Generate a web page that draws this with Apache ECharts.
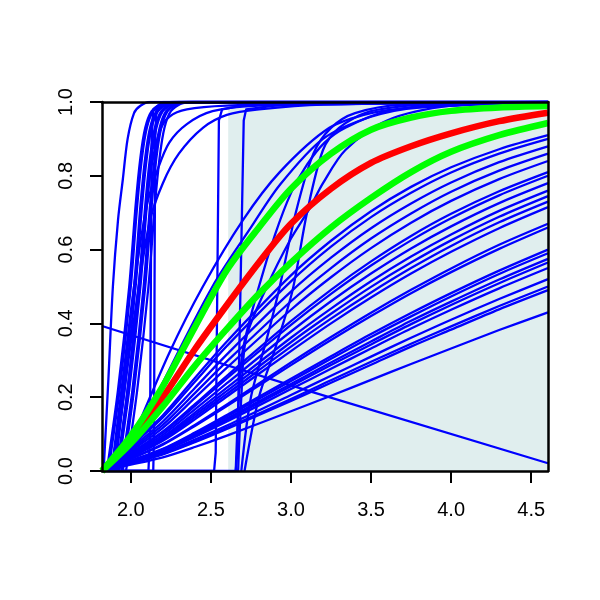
<!DOCTYPE html>
<html><head><meta charset="utf-8">
<script src="https://cdn.jsdelivr.net/npm/echarts@6/dist/echarts.min.js"></script>
<style>html,body{margin:0;padding:0;background:#fff}#c{width:600px;height:600px}</style>
</head><body><div id="c"></div>
<script>
// ---- axis ranges / ticks ----
const xMin = 1.82, xMax = 4.605;
const shadeStart = 2.608;
const xTicks = [2.0, 2.5, 3.0, 3.5, 4.0, 4.5];
const yTicks = [0, 0.2, 0.4, 0.6, 0.8, 1.0];

// ---- thick reference curves ----
const refX = [1.82, 2.0, 2.2, 2.4, 2.6, 2.8, 3.0, 3.25, 3.5, 3.75, 4.0, 4.3, 4.605];
const redY = [0, 0.085, 0.2, 0.33, 0.45, 0.565, 0.67, 0.765, 0.835, 0.88, 0.915, 0.948, 0.971];
const greenUpperY = [0, 0.095, 0.23, 0.39, 0.545, 0.66, 0.765, 0.86, 0.925, 0.958, 0.976, 0.985, 0.989];
const greenLowerY = [0, 0.075, 0.175, 0.285, 0.385, 0.48, 0.565, 0.66, 0.74, 0.81, 0.865, 0.91, 0.943];

// ---- fan of blue curves from the lower-left corner ----
const fanX = [1.82, 2.0, 2.2, 2.4, 2.6, 3.0, 3.25, 3.5, 3.75, 4.0, 4.3, 4.605];
const fanY = [
  [0, 0.069, 0.151, 0.252, 0.351, 0.530, 0.624, 0.704, 0.770, 0.823, 0.872, 0.91],
  [0, 0.067, 0.145, 0.242, 0.339, 0.514, 0.608, 0.688, 0.754, 0.809, 0.860, 0.90],
  [0, 0.062, 0.134, 0.225, 0.316, 0.486, 0.578, 0.658, 0.725, 0.782, 0.837, 0.88],
  [0, 0.058, 0.125, 0.211, 0.297, 0.460, 0.550, 0.630, 0.698, 0.757, 0.814, 0.86],
  [0, 0.054, 0.117, 0.198, 0.280, 0.437, 0.525, 0.604, 0.673, 0.732, 0.791, 0.84],
  [0, 0.049, 0.107, 0.181, 0.258, 0.406, 0.491, 0.568, 0.637, 0.697, 0.758, 0.81],
  [0, 0.048, 0.104, 0.176, 0.251, 0.396, 0.480, 0.557, 0.625, 0.685, 0.747, 0.80],
  [0, 0.045, 0.098, 0.167, 0.238, 0.378, 0.460, 0.535, 0.603, 0.663, 0.726, 0.78],
  [0, 0.042, 0.092, 0.158, 0.226, 0.361, 0.440, 0.514, 0.581, 0.641, 0.705, 0.76],
  [0, 0.041, 0.089, 0.152, 0.217, 0.349, 0.426, 0.499, 0.565, 0.625, 0.689, 0.745],
  [0, 0.039, 0.085, 0.146, 0.209, 0.337, 0.413, 0.484, 0.550, 0.610, 0.674, 0.73],
  [0, 0.038, 0.082, 0.140, 0.202, 0.325, 0.400, 0.470, 0.535, 0.594, 0.658, 0.715],
  [0, 0.034, 0.073, 0.125, 0.180, 0.294, 0.363, 0.429, 0.491, 0.549, 0.613, 0.67],
  [0, 0.033, 0.071, 0.122, 0.176, 0.287, 0.355, 0.420, 0.482, 0.539, 0.602, 0.66],
  [0, 0.028, 0.060, 0.104, 0.152, 0.250, 0.311, 0.371, 0.428, 0.482, 0.543, 0.60],
  [0, 0.027, 0.059, 0.102, 0.148, 0.244, 0.304, 0.363, 0.419, 0.473, 0.534, 0.59],
  [0, 0.026, 0.056, 0.098, 0.142, 0.236, 0.294, 0.351, 0.407, 0.459, 0.519, 0.575],
  [0, 0.025, 0.055, 0.095, 0.139, 0.230, 0.287, 0.343, 0.398, 0.450, 0.509, 0.565],
  [0, 0.024, 0.053, 0.092, 0.134, 0.222, 0.277, 0.332, 0.386, 0.437, 0.495, 0.55],
  [0, 0.023, 0.049, 0.085, 0.123, 0.206, 0.258, 0.310, 0.361, 0.410, 0.466, 0.52],
  [0, 0.021, 0.046, 0.080, 0.117, 0.195, 0.246, 0.296, 0.345, 0.392, 0.447, 0.50],
  [0, 0.021, 0.045, 0.078, 0.114, 0.190, 0.239, 0.288, 0.337, 0.383, 0.438, 0.49],
  [0, 0.017, 0.037, 0.065, 0.096, 0.162, 0.204, 0.247, 0.290, 0.332, 0.382, 0.43]
];

// ---- steep curves near the left (each: x list, shared y list) ----
const steepY = [0, 0.22, 0.5, 0.72, 0.85, 0.93, 0.975, 0.995, 1, 1];
const steepX = [
  [1.85, 1.92, 1.99, 2.03, 2.06, 2.09, 2.13, 2.19, 2.27, 4.605],
  [1.86, 1.93, 2.00, 2.04, 2.07, 2.10, 2.14, 2.20, 2.28, 4.605],
  [1.88, 1.95, 2.02, 2.06, 2.09, 2.12, 2.16, 2.22, 2.30, 4.605],
  [1.89, 1.96, 2.03, 2.07, 2.10, 2.13, 2.17, 2.23, 2.31, 4.605],
  [1.91, 1.98, 2.05, 2.09, 2.12, 2.15, 2.19, 2.25, 2.33, 4.605],
  [1.92, 1.99, 2.06, 2.10, 2.13, 2.16, 2.20, 2.26, 2.34, 4.605],
  [1.94, 2.01, 2.08, 2.12, 2.15, 2.18, 2.22, 2.28, 2.36, 4.605],
  [1.95, 2.02, 2.09, 2.13, 2.16, 2.19, 2.23, 2.29, 2.37, 4.605],
  [1.97, 2.04, 2.11, 2.15, 2.18, 2.21, 2.25, 2.31, 2.39, 4.605]
];

// ---- other individual blue curves ----
const otherCurves = [
  // leftmost
  [[1.83, 1.86, 1.888, 1.92, 1.95, 1.98, 2.02, 2.06, 2.12, 4.605],
   [0, 0.25, 0.5, 0.68, 0.79, 0.9, 0.97, 0.99, 1, 1]],
  // slow-top curves
  [[1.9, 1.97, 2.05, 2.12, 2.2, 2.3, 2.45, 2.6, 2.8, 3.2, 4.605],
   [0, 0.25, 0.5, 0.68, 0.78, 0.86, 0.93, 0.965, 0.98, 0.993, 1]],
  [[1.88, 1.95, 2.02, 2.1, 2.17, 2.24, 2.35, 2.51, 2.8, 4.605],
   [0, 0.25, 0.5, 0.72, 0.82, 0.89, 0.94, 0.975, 0.99, 1]],
  [[1.92, 2.0, 2.06, 2.12, 2.18, 2.24, 2.35, 2.6, 3.5, 4.605],
   [0, 0.3, 0.55, 0.8, 0.92, 0.96, 0.98, 0.99, 1, 1]],
  // curves above the upper green one
  [[1.9, 2.0, 2.24, 2.45, 2.7, 2.93, 3.24, 3.5, 3.76, 4.2, 4.605],
   [0, 0.08, 0.32, 0.5, 0.68, 0.81, 0.93, 0.97, 0.985, 0.995, 1]],
  [[1.92, 2.0, 2.2, 2.51, 2.75, 2.93, 3.2, 3.5, 3.8, 4.605],
   [0, 0.06, 0.24, 0.5, 0.66, 0.775, 0.9, 0.96, 0.985, 0.998]],
  // late S-shaped curves
  [[2.655, 2.675, 2.7, 2.8, 2.9, 3.0, 3.1, 3.21, 3.34, 3.6, 4.0, 4.605],
   [0, 0.2, 0.33, 0.5, 0.64, 0.753, 0.83, 0.89, 0.93, 0.975, 0.995, 1]],
  [[2.67, 2.69, 2.72, 2.85, 3.0, 3.11, 3.2, 3.34, 3.6, 4.0, 4.605],
   [0, 0.2, 0.36, 0.5, 0.63, 0.707, 0.78, 0.87, 0.95, 0.99, 1]],
  [[2.69, 2.75, 2.85, 2.93, 3.03, 3.14, 3.25, 3.4, 3.7, 4.605],
   [0, 0.2, 0.36, 0.5, 0.7, 0.86, 0.93, 0.97, 0.993, 1]],
  [[2.71, 2.8, 2.9, 3.01, 3.1, 3.2, 3.3, 3.5, 3.9, 4.605],
   [0, 0.2, 0.33, 0.49, 0.7, 0.87, 0.93, 0.975, 0.995, 1]]
];

// near-vertical step curves (drawn without smoothing)
const stepCurves = [
  [[1.82, 2.11, 2.12, 2.125, 2.13, 2.14, 2.2, 4.605], [0, 0, 0.1, 0.5, 0.9, 0.98, 1, 1]],
  [[1.82, 2.14, 2.145, 2.148, 2.152, 2.16, 2.25, 4.605], [0, 0, 0.1, 0.5, 0.9, 0.98, 1, 1]],
  [[1.82, 2.52, 2.53, 2.54, 2.55, 2.57, 2.7, 3.0, 4.605], [0, 0, 0.05, 0.5, 0.95, 0.98, 0.99, 0.997, 1]],
  [[1.82, 2.655, 2.665, 2.685, 2.705, 2.72, 2.9, 3.3, 4.605], [0, 0, 0.05, 0.5, 0.95, 0.98, 0.99, 0.997, 1]]
];

// descending straight line
const descX = [1.82, 3.14, 4.605];
const descY = [0.393, 0.213, 0.021];

// ---- build ----
const BLUE = '#0000ff', RED = '#ff0000', GREEN = '#00ff00';
const series = [];
function addLine(xs, ys, color, width, z, smooth) {
  series.push({
    type: 'line', data: xs.map((x, i) => [x, ys[i]]),
    showSymbol: false, symbol: 'none', smooth: smooth,
    lineStyle: { color: color, width: width, cap: 'butt', join: 'round' },
    z: z, silent: true, animation: false, clip: true
  });
}
series.push({
  type: 'line', data: [], z: 1, silent: true,
  markArea: { silent: true, itemStyle: { color: '#e0eeee' },
    data: [[{ xAxis: shadeStart, yAxis: 0 }, { xAxis: xMax, yAxis: 1 }]] }
});
fanY.forEach(ys => addLine(fanX, ys, BLUE, 2.3, 3, 0.3));
steepX.forEach(xs => addLine(xs, steepY, BLUE, 2.3, 3, 0.25));
otherCurves.forEach(c => addLine(c[0], c[1], BLUE, 2.3, 3, 0.3));
stepCurves.forEach(c => addLine(c[0], c[1], BLUE, 2.3, 3, false));
addLine(descX, descY, BLUE, 2.3, 3, false);
addLine(refX, redY, RED, 6.5, 5, 0.3);
addLine(refX, greenUpperY, GREEN, 6.5, 6, 0.3);
addLine(refX, greenLowerY, GREEN, 6.5, 6, 0.3);

const FONT = 'Liberation Sans';
const axisLine = { show: true, onZero: false, lineStyle: { color: '#000', width: 2.5 } };
const option = {
  animation: false,
  grid: { left: 102, right: 52, top: 102, bottom: 129, containLabel: false },
  xAxis: [
    { type: 'value', min: xMin, max: xMax, position: 'bottom', z: 50,
      axisLine: axisLine,
      axisTick: { show: true, customValues: xTicks, length: 12, lineStyle: { color: '#000', width: 2 } },
      axisLabel: { customValues: xTicks, formatter: v => Number(v).toFixed(1), fontSize: 20,
        color: '#000', margin: 29, fontFamily: FONT },
      splitLine: { show: false } },
    { type: 'value', min: xMin, max: xMax, position: 'top', z: 50,
      axisLine: axisLine, axisTick: { show: false }, axisLabel: { show: false }, splitLine: { show: false } }
  ],
  yAxis: [
    { type: 'value', min: 0, max: 1, interval: 0.2, position: 'left', z: 50,
      axisLine: axisLine,
      axisTick: { show: true, customValues: yTicks, length: 12, lineStyle: { color: '#000', width: 2 } },
      axisLabel: { customValues: yTicks, formatter: v => Number(v).toFixed(1), fontSize: 20, rotate: 90,
        color: '#000', margin: 26, fontFamily: FONT },
      splitLine: { show: false } },
    { type: 'value', min: 0, max: 1, position: 'right', z: 50,
      axisLine: axisLine, axisTick: { show: false }, axisLabel: { show: false }, splitLine: { show: false } }
  ],
  series: series
};
const chart = echarts.init(document.getElementById('c'));
chart.setOption(option);
</script>
</body></html>
